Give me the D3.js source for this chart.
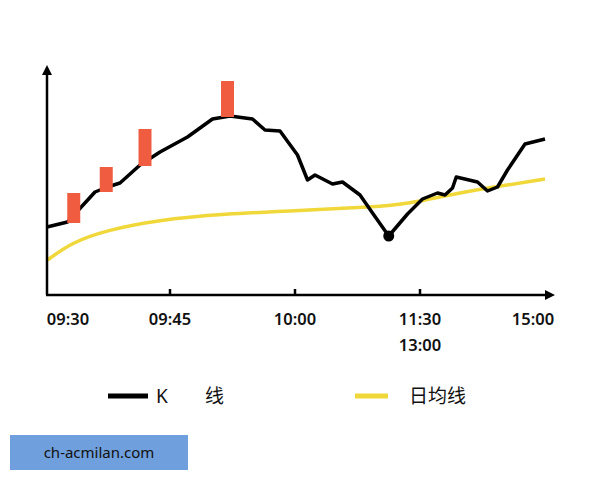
<!DOCTYPE html>
<html><head><meta charset="utf-8">
<script src="https://cdn.jsdelivr.net/npm/d3@7"></script>
<style>body{margin:0;background:#fff}svg{display:block;font-family:"Noto Sans","Noto Sans CJK SC",sans-serif}</style>
</head><body><svg width="600" height="480"></svg>
<script>
// time in units of tick spacing (0 = 09:30, 4 = 15:00), value = price level
var kLine = [[0.016,68],[0.18,73],[0.4,103],[0.5,108],[0.6,112],[0.76,130],[0.92,143],[1.14,158],[1.34,176],[1.48,179],[1.66,176],[1.76,165],[1.88,164],[2.02,140],[2.1,115],[2.16,120],[2.3,111],[2.38,113],[2.52,100],[2.62,82],[2.75,59],[2.9,81],[3.02,96],[3.14,102],[3.2,100],[3.26,107],[3.29,118],[3.46,113],[3.54,104],[3.62,108],[3.7,125],[3.84,151],[4.0,156]];
var avgLine = [[0.02,35],[0.22,53],[0.5,65],[0.9,75],[1.42,81],[2.1,85],[2.62,88],[2.9,91],[3.3,102],[3.7,110],[4.0,116]];
var bars = [[0.23,72,102],[0.49,103,128],[0.8,129,166],[1.46,178,214]]; // center, low, high
var lowPoint = [2.75,59];
var tickLabels = ["09:30","09:45","10:00","11:30","15:00"];

var svg = d3.select("svg");
var x = d3.scaleLinear().domain([0,4]).range([45,545]);
var y = d3.scaleLinear().domain([0,230]).range([295,65]);

// yellow average line
svg.append("path").datum(avgLine)
  .attr("d", d3.line().x(d=>x(d[0])).y(d=>y(d[1])).curve(d3.curveBasis))
  .attr("fill","none").attr("stroke","#f0d83a").attr("stroke-width",3.5);

// K line
svg.append("path").datum(kLine)
  .attr("d", d3.line().x(d=>x(d[0])).y(d=>y(d[1])))
  .attr("fill","none").attr("stroke","#000").attr("stroke-width",3.5).attr("stroke-linejoin","round");

svg.selectAll(".bar").data(bars).enter().append("rect")
  .attr("x", d=>x(d[0])-6.5).attr("width",13)
  .attr("y", d=>y(d[2])).attr("height", d=>y(d[1])-y(d[2]))
  .attr("fill","#f05c40");

svg.append("circle").attr("cx",x(lowPoint[0])).attr("cy",y(lowPoint[1])).attr("r",5.5).attr("fill","#000");

// axes
var defs = svg.append("defs");
defs.append("marker").attr("id","arr").attr("viewBox","0 0 10 10").attr("refX",5).attr("refY",5)
  .attr("markerWidth",4).attr("markerHeight",4).attr("orient","auto")
  .append("path").attr("d","M0,0L10,5L0,10z").attr("fill","#000");
svg.append("line").attr("x1",47).attr("y1",295).attr("x2",47).attr("y2",70)
  .attr("stroke","#000").attr("stroke-width",2.5).attr("marker-end","url(#arr)");
svg.append("line").attr("x1",46).attr("y1",295).attr("x2",550).attr("y2",295)
  .attr("stroke","#000").attr("stroke-width",2.5).attr("marker-end","url(#arr)");
svg.selectAll(".tk").data([1,2,3]).enter().append("line")
  .attr("x1",d=>x(d)).attr("x2",d=>x(d)).attr("y1",295).attr("y2",289)
  .attr("stroke","#000").attr("stroke-width",2.5);

var labelX = [68, x(1), x(2), x(3), 533];
svg.selectAll(".lbl").data(tickLabels).enter().append("text")
  .attr("x",(d,i)=>labelX[i]).attr("y",325).attr("text-anchor","middle")
  .attr("font-size",16.5).attr("font-weight",600).attr("fill","#111").text(d=>d);
svg.append("text").attr("x",x(3)).attr("y",351).attr("text-anchor","middle")
  .attr("font-size",16.5).attr("font-weight",600).attr("fill","#111").text("13:00");

// legend
svg.append("line").attr("x1",108).attr("x2",148).attr("y1",396).attr("y2",396).attr("stroke","#000").attr("stroke-width",5);
svg.append("text").attr("x",156).attr("y",403).attr("font-size",19).attr("fill","#111").text("K");
svg.append("text").attr("x",205).attr("y",403).attr("font-size",19).attr("fill","#111").text("线");
svg.append("line").attr("x1",355).attr("x2",388).attr("y1",396).attr("y2",396).attr("stroke","#f0d83a").attr("stroke-width",5);
svg.append("text").attr("x",409).attr("y",403).attr("font-size",19).attr("fill","#111").text("日均线");

// watermark
svg.append("rect").attr("x",10).attr("y",435).attr("width",178).attr("height",35).attr("fill","#6f9fdc");
svg.append("text").attr("x",99).attr("y",458).attr("text-anchor","middle").attr("font-size",15).attr("fill","#111").text("ch-acmilan.com");
</script></body></html>
